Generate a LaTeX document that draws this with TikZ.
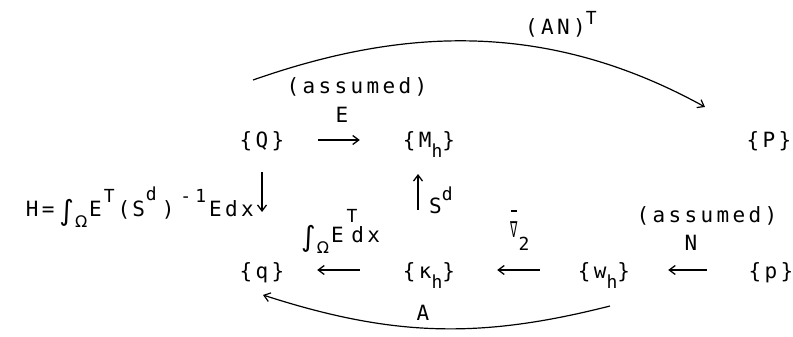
\documentclass[tikz,border=0pt]{standalone}
\usepackage{fontspec}
\setmainfont{DejaVu Sans Mono}[LetterSpace=16]
\newfontfamily\symf{DejaVu Sans}
\usetikzlibrary{arrows.meta}
\newcommand\myup[2][12pt]{\raisebox{#1}{\fontsize{18}{18}\selectfont #2}}
\newcommand\mydn[2][-10pt]{\raisebox{#1}{\fontsize{18}{18}\selectfont #2}}
\newcommand\myint{\raisebox{-4pt}{\symf\fontsize{28}{28}\selectfont ∫}}
\newcommand\myOm{\raisebox{-11pt}{\symf\fontsize{16}{16}\selectfont Ω}}
\newcommand\mynab{\setbox0\hbox{\scalebox{0.55}[1.1]{\symf\fontsize{20}{20}\selectfont ∇}}\vbox{\hbox to\wd0{\hss\rule{0.8\wd0}{1.6pt}\hss}\kern4.5pt\box0}}
\tikzset{
  obj/.style={text width=80pt, align=center, inner sep=0pt},
  lbl/.style={inner sep=0pt},
  arr/.style={-{Straight Barb[length=6pt,width=9pt]}, line width=1.3pt},
  arc/.style={-{Straight Barb[length=6pt,width=9pt]}, line width=1.2pt}
}
\begin{document}
\begin{tikzpicture}[x=1pt,y=-1pt]
\useasboundingbox (0,0) rectangle (793,337);
\fontsize{21}{21}\selectfont
% objects
\node[obj,anchor=base] (Q) at (262,147.5) {\{Q\}};
\node[obj,anchor=base] (M) at (429,147.5) {\{M\mydn{h}\}};
\node[obj,anchor=base] (P) at (769,147.5) {\{P\}};
\node[obj,anchor=base] (q) at (262,278) {\{q\}};
\node[obj,anchor=base] (k) at (429,278) {\{κ\mydn{h}\}};
\node[obj,anchor=base] (w) at (604,278) {\{w\mydn{h}\}};
\node[obj,anchor=base] (p) at (771,278) {\{p\}};
% labels
\node[lbl,anchor=base] (ass1) at (357,93) {(assumed)};
\node[lbl,anchor=base] (lE) at (342,122) {E};
\node[lbl,anchor=base west] (lAN) at (525,35) {(AN)\myup[10pt]{T}};
\node[lbl,anchor=base east] (lH) at (254,216) {H=\kern5pt\myint\kern1pt\myOm\kern2pt E\kern2pt\myup[14pt]{T}\kern3pt(\kern2pt S\kern1pt\myup[16pt]{d}\kern5pt)\kern6pt\myup[14pt]{-\kern4pt 1}\kern3pt Edx};
\node[lbl,anchor=base west] (lI) at (301,242) {\myint\kern1pt\myOm\kern2pt E\kern3pt\myup[20pt]{T}\kern-6pt dx};
\node[lbl,anchor=base west] (lS) at (429,213) {S\myup[13pt]{d}};
\node[lbl,anchor=base west] (lN2) at (510,237) {\mynab\kern1pt\mydn[-13pt]{2}};
\node[lbl,anchor=base] (ass2) at (707,222) {(assumed)};
\node[lbl,anchor=base] (lN) at (691,250) {N};
\node[lbl,anchor=base] (lA) at (423,320) {A};
% straight connectors
\draw[arr, shorten <=16pt, shorten >=29pt] ([yshift=7.5pt]Q.base east) -- ([yshift=7.5pt]M.base west);
\draw[arr, shorten <=29pt, shorten >=15pt] ([yshift=8pt]k.base west) -- ([yshift=8pt]q.base east);
\draw[arr, shorten <=24pt, shorten >=28pt] ([yshift=8pt]w.base west) -- ([yshift=8pt]k.base east);
\draw[arr, shorten <=24pt, shorten >=24pt] ([yshift=8pt]p.base west) -- ([yshift=8pt]w.base east);
\draw[arr, shorten <=24.5pt, shorten >=66pt] (Q.base) -- (q.base);
\draw[arr, shorten <=68pt, shorten >=26.5pt] ([xshift=-11pt]k.base) -- ([xshift=-11pt]M.base);
% curved connectors
\coordinate (t0) at (253,80);
\coordinate (t1) at (705,107);
\draw[arc] (t0) .. controls (393,31) and (540,16) .. (t1);
\coordinate (b0) at (610,306);
\coordinate (b1) at (263,295);
\draw[arc] (b0) .. controls (480,339) and (393,337) .. (b1);
\end{tikzpicture}
\end{document}
